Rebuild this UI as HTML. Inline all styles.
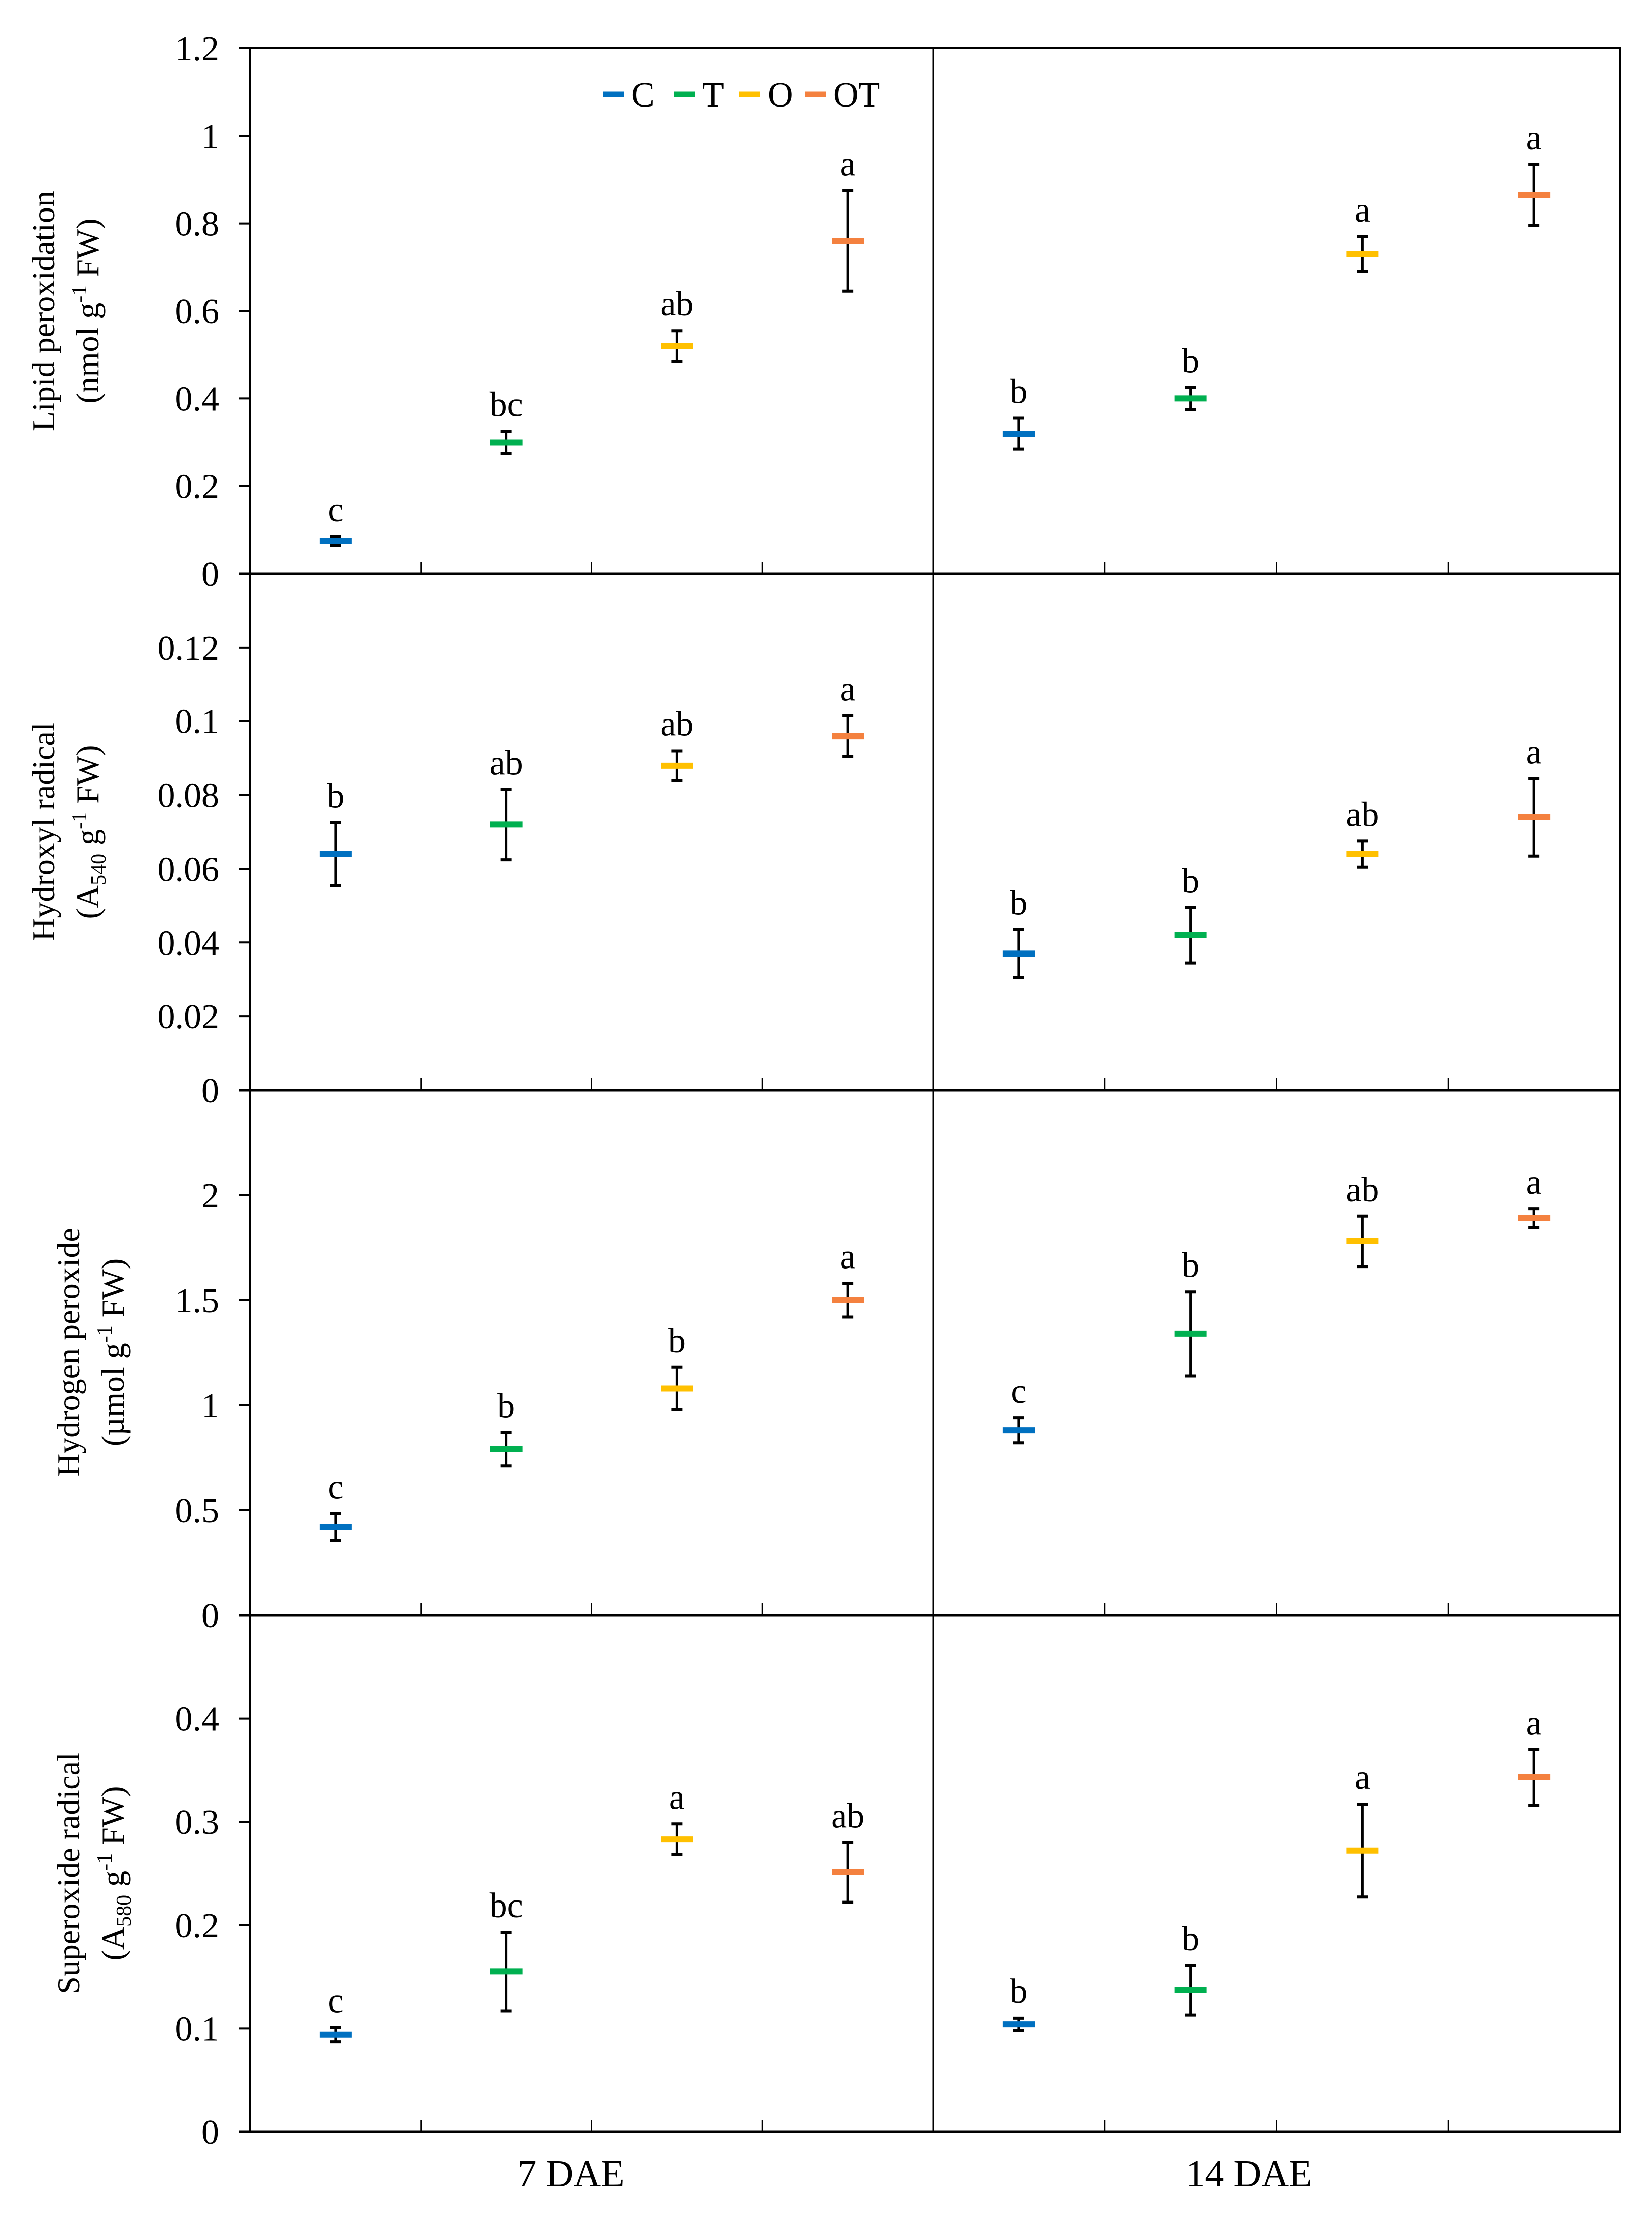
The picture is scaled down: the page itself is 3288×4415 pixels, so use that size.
<!DOCTYPE html>
<html><head><meta charset="utf-8">
<style>
html,body{margin:0;padding:0;background:#fff;}
svg{display:block;font-family:"Liberation Serif",serif;}
</style></head>
<body>
<svg id="chart" xmlns="http://www.w3.org/2000/svg" width="3288" height="4415" viewBox="0 0 3288 4415">
<rect width="3288" height="4415" fill="#fff"/>
<g id="axes"></g>
<g id="marks"></g>
<g>
  <line x1="1200" y1="188" x2="1242" y2="188" stroke="#0070c0" stroke-width="11"/>
  <text x="1256" y="212" font-size="70">C</text>
  <line x1="1342" y1="188" x2="1384" y2="188" stroke="#00b050" stroke-width="11"/>
  <text x="1398" y="212" font-size="70">T</text>
  <line x1="1470" y1="188" x2="1512" y2="188" stroke="#ffc000" stroke-width="11"/>
  <text x="1528" y="212" font-size="70">O</text>
  <line x1="1602" y1="188" x2="1644" y2="188" stroke="#f4813f" stroke-width="11"/>
  <text x="1658" y="212" font-size="70">OT</text>
</g>
<text x="1136" y="4352" font-size="76" text-anchor="middle">7 DAE</text>
<text x="2486" y="4352" font-size="76" text-anchor="middle">14 DAE</text>
<g font-size="64" text-anchor="middle">
  <text transform="translate(108,619) rotate(-90)">Lipid peroxidation</text>
  <text transform="translate(196,619) rotate(-90)">(nmol g<tspan font-size="42" dy="-24">-1</tspan><tspan dy="24"> FW)</tspan></text>
</g>
<g font-size="64" text-anchor="middle">
  <text transform="translate(108,1656) rotate(-90)">Hydroxyl radical</text>
  <text transform="translate(196,1656) rotate(-90)">(A<tspan font-size="42" dy="14">540</tspan><tspan dy="-14"> g</tspan><tspan font-size="42" dy="-24">-1</tspan><tspan dy="24"> FW)</tspan></text>
</g>
<g font-size="64" text-anchor="middle">
  <text transform="translate(158,2692) rotate(-90)">Hydrogen peroxide</text>
  <text transform="translate(246,2692) rotate(-90)">(µmol g<tspan font-size="42" dy="-24">-1</tspan><tspan dy="24"> FW)</tspan></text>
</g>
<g font-size="64" text-anchor="middle">
  <text transform="translate(158,3729) rotate(-90)">Superoxide radical</text>
  <text transform="translate(246,3729) rotate(-90)">(A<tspan font-size="42" dy="14">580</tspan><tspan dy="-14"> g</tspan><tspan font-size="42" dy="-24">-1</tspan><tspan dy="24"> FW)</tspan></text>
</g>
</svg>
<script>
// data arrays (order: C, T, O, OT for 7 DAE then 14 DAE)
const treatments = ["C","T","O","OT"];
const timepoints = ["7 DAE","14 DAE"];
const lipidMean = [0.075,0.30,0.52,0.76, 0.32,0.40,0.73,0.865];
const lipidErr  = [0.01,0.025,0.035,0.115, 0.035,0.025,0.04,0.07];
const lipidLetters = ["c","bc","ab","a","b","b","a","a"];
const hydroxylMean = [0.064,0.072,0.088,0.096, 0.037,0.042,0.064,0.074];
const hydroxylErr  = [0.0085,0.0095,0.004,0.0055, 0.0065,0.0075,0.0035,0.0105];
const hydroxylLetters = ["b","ab","ab","a","b","b","ab","a"];
const h2o2Mean = [0.42,0.79,1.08,1.50, 0.88,1.34,1.78,1.89];
const h2o2Err  = [0.065,0.08,0.10,0.08, 0.06,0.20,0.12,0.045];
const h2o2Letters = ["c","b","b","a","c","b","ab","a"];
const superMean = [0.094,0.155,0.283,0.251, 0.104,0.137,0.272,0.343];
const superErr  = [0.007,0.038,0.015,0.029, 0.006,0.024,0.045,0.027];
const superLetters = ["c","bc","a","ab","b","b","a","a"];
const lipidTicks = ["0","0.2","0.4","0.6","0.8","1","1.2"];
const hydroxylTicks = ["0","0.02","0.04","0.06","0.08","0.1","0.12"];
const h2o2Ticks = ["0","0.5","1","1.5","2"];
const superTicks = ["0","0.1","0.2","0.3","0.4"];

const NS="http://www.w3.org/2000/svg";
const colors=["#0070c0","#00b050","#ffc000","#f4813f"];
const X0=498, XMID=1857, X1=3224;
const panels=[
 {name:"lipid",top:96,bottom:1142,max:1.2,step:0.2,ticks:lipidTicks,mean:lipidMean,err:lipidErr,letters:lipidLetters},
 {name:"hydroxyl",top:1142,bottom:2170,max:0.14,step:0.02,ticks:hydroxylTicks,mean:hydroxylMean,err:hydroxylErr,letters:hydroxylLetters},
 {name:"h2o2",top:2170,bottom:3215,max:2.5,step:0.5,ticks:h2o2Ticks,mean:h2o2Mean,err:h2o2Err,letters:h2o2Letters},
 {name:"superoxide",top:3215,bottom:4243,max:0.5,step:0.1,ticks:superTicks,mean:superMean,err:superErr,letters:superLetters}
];
const axes=document.getElementById('axes'), marks=document.getElementById('marks');
function mk(tag,attrs,parent){const e=document.createElementNS(NS,tag);for(const k in attrs)e.setAttribute(k,attrs[k]);parent.appendChild(e);return e;}
function xPos(i){
  const t=Math.floor(i/4), k=i%4;
  const a=t===0?X0:XMID, b=t===0?XMID:X1, w=(b-a)/4;
  return a+w*(k+0.5);
}
const frame=mk('rect',{x:X0,y:96,width:X1-X0,height:4243-96,fill:'none',stroke:'#000','stroke-width':4},axes);


const div=mk('line',{x1:XMID,y1:96,x2:XMID,y2:4243,stroke:'#000','stroke-width':3},axes);


panels.forEach((p,pi)=>{
  const y=v=>p.bottom-(v/p.max)*(p.bottom-p.top);
  const base=mk('line',{x1:X0-22,y1:p.bottom,x2:X1,y2:p.bottom,stroke:'#000','stroke-width':5},axes);
  
  
  p.ticks.forEach((lab,ti)=>{
    const yy=y(ti*p.step);
    const tk=mk('line',{x1:X0-22,y1:yy,x2:X0,y2:yy,stroke:'#000','stroke-width':4},axes);
    
    
    const tx=mk('text',{x:436,y:yy+24,'font-size':70,'text-anchor':'end'},axes);
    tx.textContent=lab;
    
    
  });
  const tt=mk('line',{x1:X0-22,y1:p.top,x2:X0,y2:p.top,stroke:'#000','stroke-width':4},axes);
  
  
  [1,2,3,5,6,7].forEach(k=>{
    const a=k<4?X0:XMID, b=k<4?XMID:X1, w=(b-a)/4, xx=a+w*(k%4);
    const ct=mk('line',{x1:xx,y1:p.bottom,x2:xx,y2:p.bottom-24,stroke:'#000','stroke-width':3},axes);
    
    
  });
  p.mean.forEach((m,i)=>{
    const cx=xPos(i), c=colors[i%4];
    const g=mk('g',{},marks);
    
    
    const hi=y(m+p.err[i]), lo=y(m-p.err[i]);
    mk('line',{x1:cx,y1:hi,x2:cx,y2:lo,stroke:'#000','stroke-width':5},g);
    mk('line',{x1:cx-11,y1:hi,x2:cx+11,y2:hi,stroke:'#000','stroke-width':6},g);
    mk('line',{x1:cx-11,y1:lo,x2:cx+11,y2:lo,stroke:'#000','stroke-width':6},g);
    mk('line',{x1:cx-32,y1:y(m),x2:cx+32,y2:y(m),stroke:c,'stroke-width':12},g);
    const lt=mk('text',{x:cx,y:hi-30,'font-size':70,'text-anchor':'middle'},g);
    lt.textContent=p.letters[i];
  });
});
</script>
</body></html>
